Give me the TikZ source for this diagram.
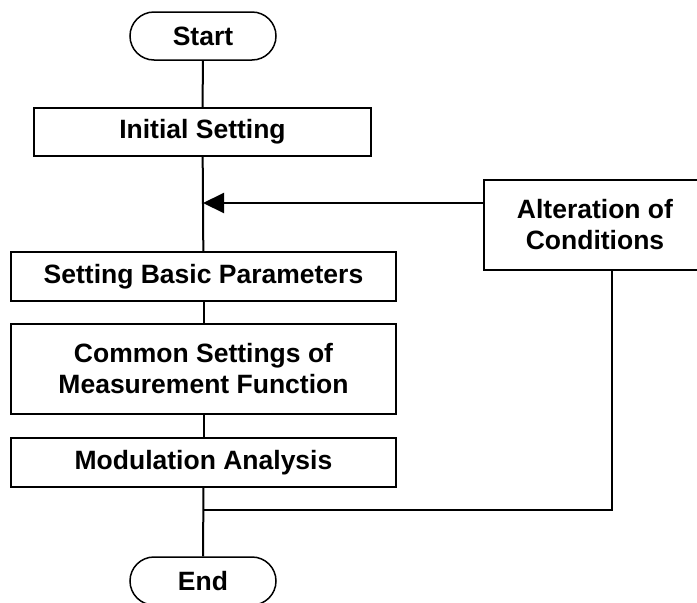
\documentclass[tikz,border=0pt]{standalone}
\usepackage{fontspec}
\setmainfont{Liberation Sans}
\usetikzlibrary{arrows.meta, positioning}
\newcommand{\FlowFont}{\fontsize{26.5}{31}\selectfont\bfseries}

\begin{document}
\begin{tikzpicture}[x=1pt,y=-1pt,line width=1.5pt,
  terminal/.style={draw, rectangle, rounded corners=24pt, inner sep=0pt,
    minimum width=146pt, minimum height=48pt, font=\FlowFont},
  process/.style={draw, rectangle, inner sep=0pt, align=center,
    font=\FlowFont},
  flow/.style={line width=2pt},
  merge/.style={flow, -{Triangle[length=21pt,width=20pt]}}]
  \useasboundingbox (0,0) rectangle (697,603);
  \node[terminal]                                              (Start) at (203, 36)    {Start};
  \node[process, minimum width=337pt, minimum height=48pt]     (Init)  at (202.5, 132) {Initial Setting};
  \node[process, minimum width=385pt, minimum height=49pt]     (Basic) at (203.5, 276.5) {Setting Basic Parameters};
  \node[process, minimum width=385pt, minimum height=90pt]     (Meas)  at (203.5, 369) {Common Settings of\\Measurement Function};
  \node[process, minimum width=385pt, minimum height=49pt]     (Mod)   at (203.5, 462.5) {Modulation Analysis};
  \node[process, minimum width=222pt, minimum height=90pt]     (Alter) at (595, 225)   {Alteration of\\Conditions};
  \node[terminal]                                              (End)   at (203, 581)   {End};
  \coordinate (MergeIn)  at (203, 203);
  \coordinate (ReturnIn) at (612, 510);
  \draw[flow] (Start) -- (Init);
  \draw[flow] (Init) -- (Basic);
  \draw[flow] (Basic) -- (Meas);
  \draw[flow] (Meas) -- (Mod);
  \draw[flow] (Mod) -- (End);
  \draw[merge] (MergeIn -| Alter.west) -- (MergeIn);
  \draw[flow] (Alter.south -| ReturnIn) -- (ReturnIn) -- (ReturnIn -| Mod.south);
\end{tikzpicture}
\end{document}
